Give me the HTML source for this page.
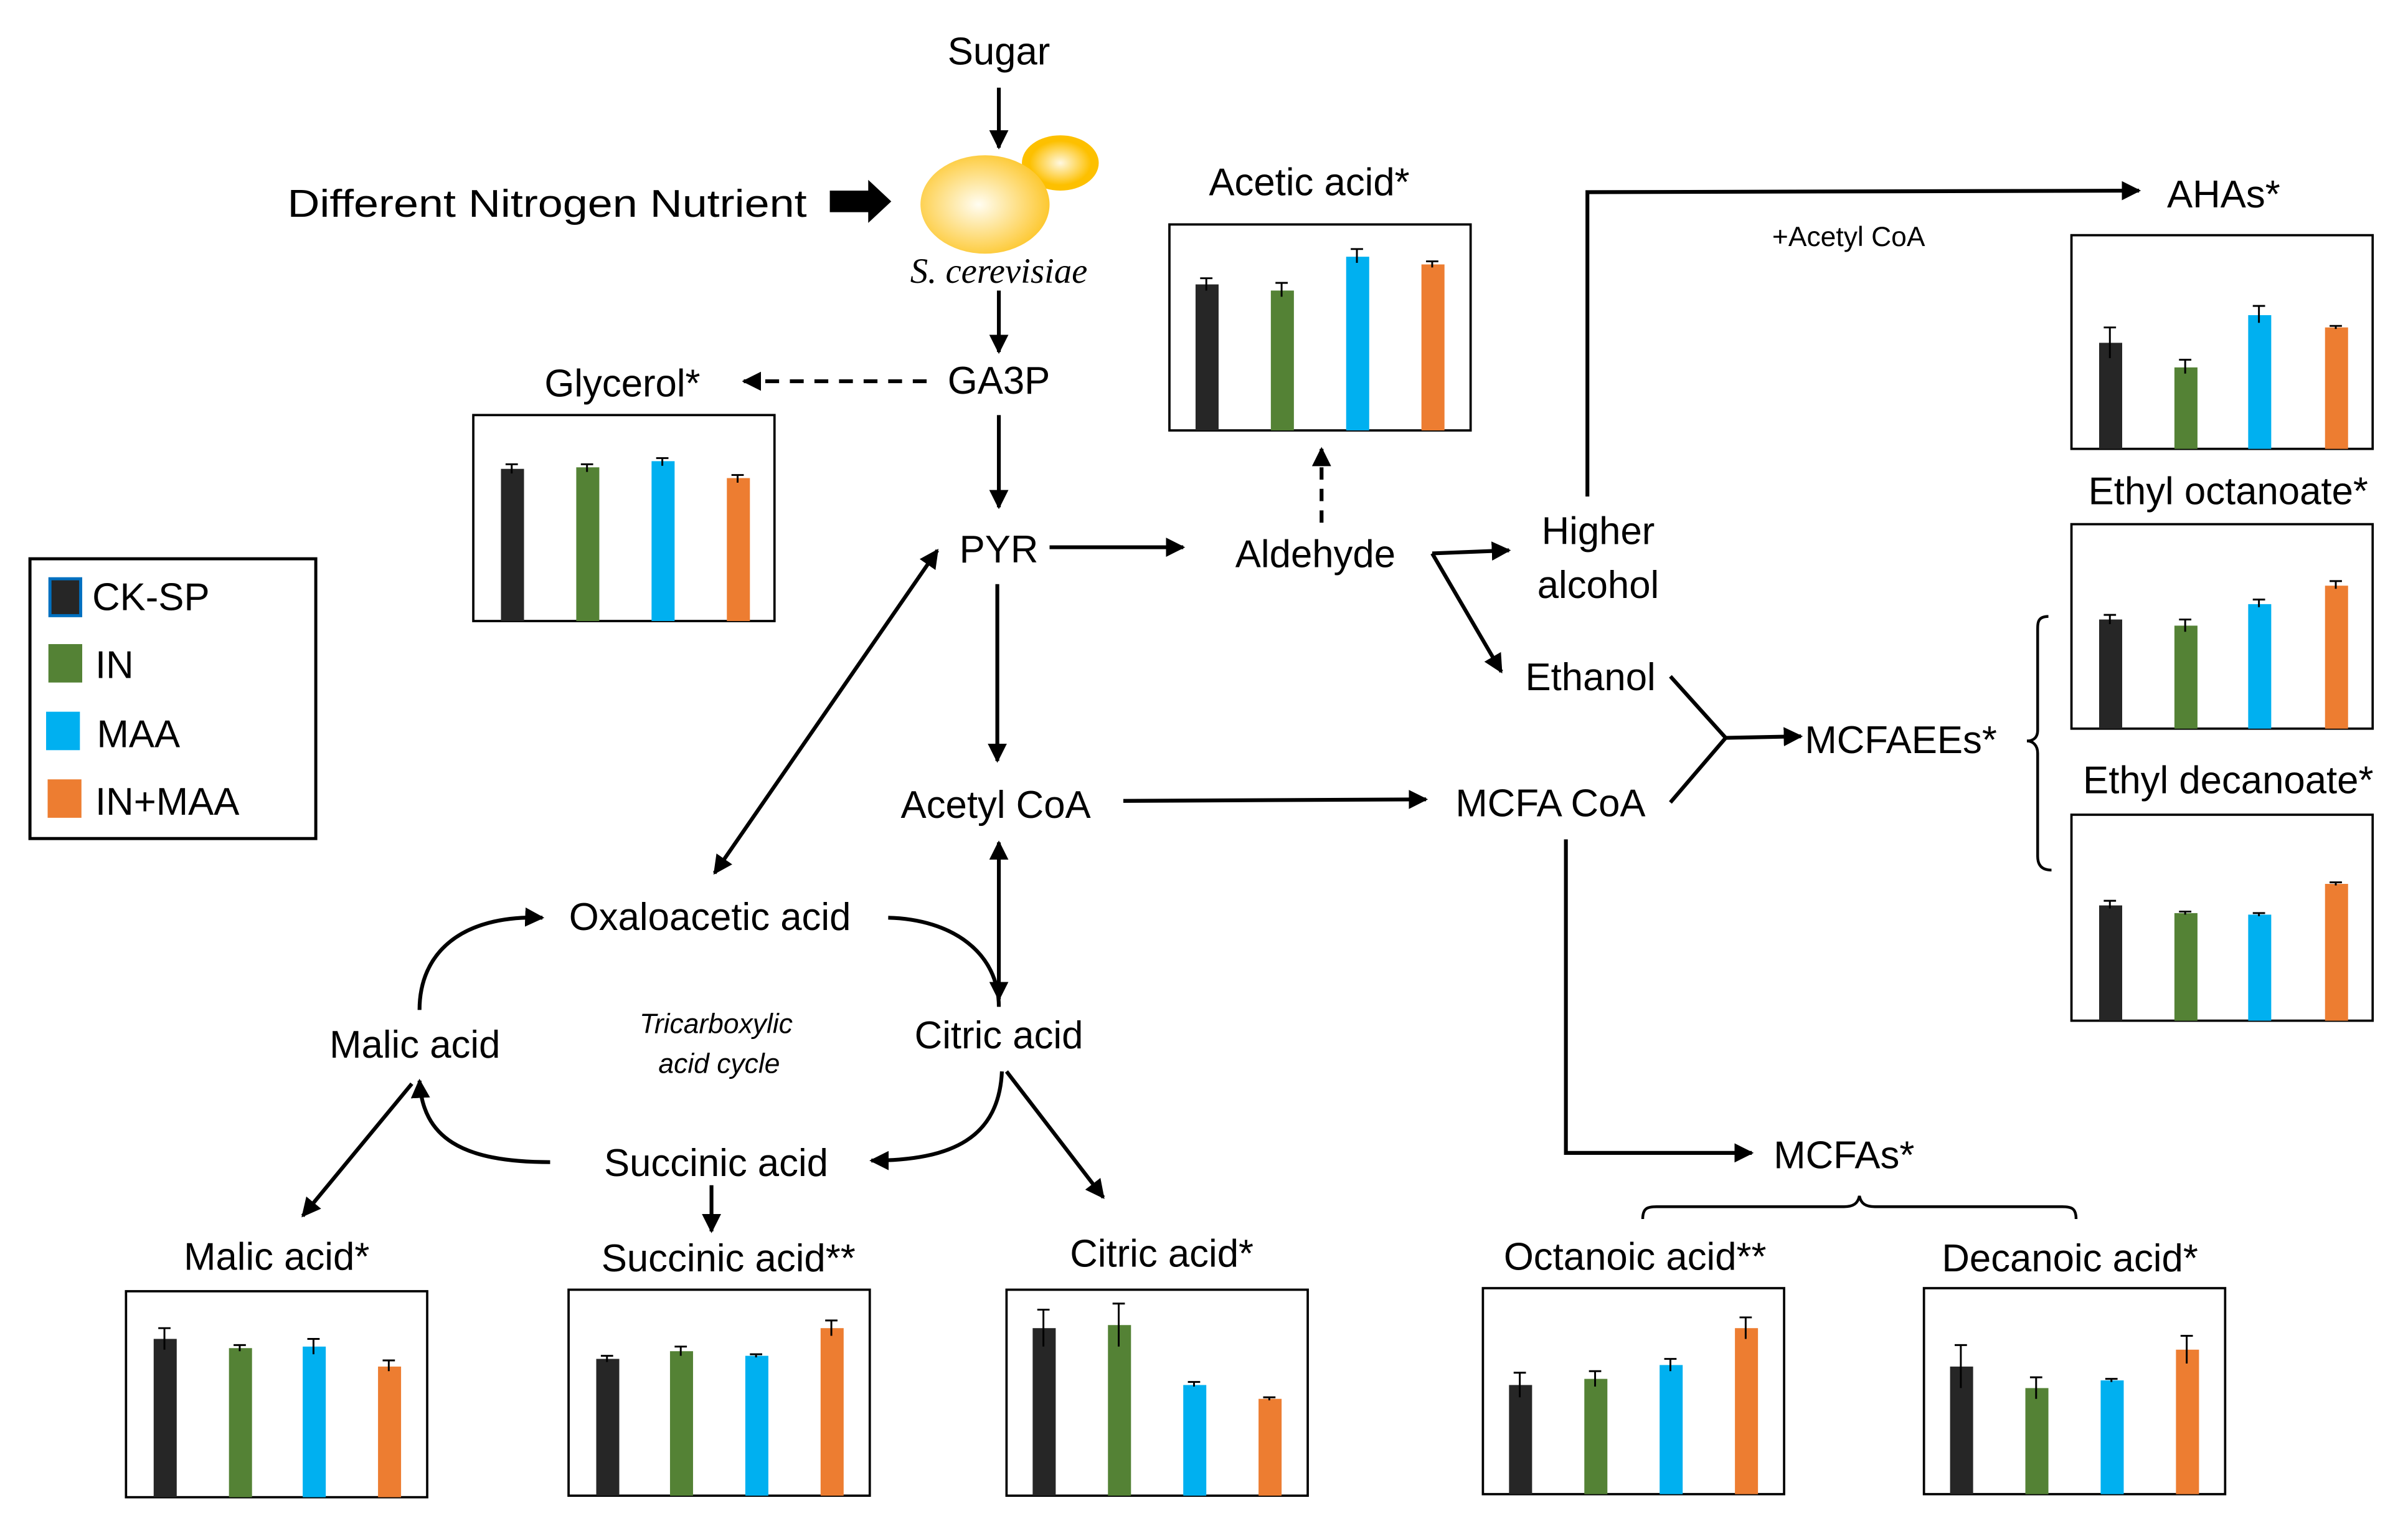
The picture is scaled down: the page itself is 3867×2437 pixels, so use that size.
<!DOCTYPE html>
<html><head><meta charset="utf-8"><style>html,body{margin:0;padding:0;background:#fff}svg{display:block}</style></head>
<body>
<svg width="3867" height="2437" viewBox="0 0 1567 987.5" xmlns="http://www.w3.org/2000/svg" font-family="Liberation Sans, sans-serif">
<defs>
<marker id="a" viewBox="0 0 10 10" refX="9" refY="5" markerWidth="5" markerHeight="5" orient="auto-start-reverse"><path d="M0,0L10,5L0,10z" fill="#000"/></marker>
<radialGradient id="y1" cx="0.45" cy="0.5" r="0.55"><stop offset="0" stop-color="#fffdf2"/><stop offset="1" stop-color="#fdc830"/></radialGradient>
<radialGradient id="y2" cx="0.5" cy="0.5" r="0.5"><stop offset="0" stop-color="#fff8e0"/><stop offset="0.8" stop-color="#fdc000"/></radialGradient>
</defs>
<rect width="1567" height="987.5" fill="#fff"/>
<g font-size="25" fill="#000">
<text x="650" y="42" text-anchor="middle">Sugar</text>
<text x="356" y="141" text-anchor="middle" textLength="338" lengthAdjust="spacingAndGlyphs">Different Nitrogen Nutrient</text>
<text x="650" y="256" text-anchor="middle">GA3P</text>
<text x="405" y="258" text-anchor="middle">Glycerol*</text>
<text x="650" y="366" text-anchor="middle">PYR</text>
<text x="856" y="369" text-anchor="middle">Aldehyde</text>
<text x="852" y="127" text-anchor="middle">Acetic acid*</text>
<text x="1040" y="354" text-anchor="middle">Higher</text>
<text x="1040" y="389" text-anchor="middle">alcohol</text>
<text x="1035" y="449" text-anchor="middle">Ethanol</text>
<text x="1009" y="531" text-anchor="middle">MCFA CoA</text>
<text x="1237" y="490" text-anchor="middle">MCFAEEs*</text>
<text x="1447" y="135" text-anchor="middle">AHAs*</text>
<text x="1450" y="328" text-anchor="middle">Ethyl octanoate*</text>
<text x="1450" y="516" text-anchor="middle">Ethyl decanoate*</text>
<text x="648" y="532" text-anchor="middle">Acetyl CoA</text>
<text x="462" y="605" text-anchor="middle">Oxaloacetic acid</text>
<text x="270" y="688" text-anchor="middle">Malic acid</text>
<text x="650" y="682" text-anchor="middle">Citric acid</text>
<text x="466" y="765" text-anchor="middle">Succinic acid</text>
<text x="180" y="826" text-anchor="middle">Malic acid*</text>
<text x="474" y="827" text-anchor="middle">Succinic acid**</text>
<text x="756" y="824" text-anchor="middle">Citric acid*</text>
<text x="1200" y="760" text-anchor="middle">MCFAs*</text>
<text x="1064" y="826" text-anchor="middle">Octanoic acid**</text>
<text x="1347" y="827" text-anchor="middle">Decanoic acid*</text>
<text x="60" y="397">CK-SP</text>
<text x="62" y="441">IN</text>
<text x="63" y="486">MAA</text>
<text x="62" y="530">IN+MAA</text>
</g>
<text x="1203" y="160" text-anchor="middle" font-size="18">+Acetyl CoA</text>
<text x="466" y="672" text-anchor="middle" font-size="18" font-style="italic">Tricarboxylic</text>
<text x="468" y="698" text-anchor="middle" font-size="18" font-style="italic">acid cycle</text>
<text x="650" y="184" text-anchor="middle" font-size="23" font-style="italic" font-family="Liberation Serif, serif">S. cerevisiae</text>
<!-- yeast -->
<ellipse cx="690" cy="106" rx="25" ry="18" fill="url(#y2)"/>
<ellipse cx="641" cy="133" rx="42" ry="32" fill="url(#y1)"/>
<!-- legend -->
<rect x="19.5" y="363.5" width="186" height="182" fill="none" stroke="#000" stroke-width="2"/>
<rect x="32.5" y="376.5" width="20" height="24" fill="#262626" stroke="#0070c0" stroke-width="2"/>
<rect x="31.5" y="419" width="22" height="25" fill="#548235"/>
<rect x="30" y="463" width="22" height="25" fill="#00B0F0"/>
<rect x="31" y="507" width="22" height="25" fill="#ED7D31"/>
<!-- arrows -->
<g stroke="#000" stroke-width="2.5" fill="none">
<line x1="650" y1="57" x2="650" y2="96" marker-end="url(#a)"/>
<line x1="650" y1="189" x2="650" y2="229" marker-end="url(#a)"/>
<line x1="603" y1="248" x2="484" y2="248" stroke-dasharray="9,7" marker-end="url(#a)"/>
<line x1="650" y1="270" x2="650" y2="330" marker-end="url(#a)"/>
<line x1="683" y1="356" x2="770" y2="356" marker-end="url(#a)"/>
<line x1="860" y1="340" x2="860" y2="292" stroke-dasharray="8,6" marker-end="url(#a)"/>
<polyline points="932,360 982,358" marker-end="url(#a)"/>
<polyline points="932,360 977,437" marker-end="url(#a)"/>
<polyline points="1033,323 1033,125 1392,124" marker-end="url(#a)"/>
<line x1="649" y1="380" x2="649" y2="495" marker-end="url(#a)"/>
<line x1="731" y1="521" x2="928" y2="520" marker-end="url(#a)"/>
<line x1="465" y1="568" x2="610" y2="358" marker-start="url(#a)" marker-end="url(#a)"/>
<line x1="650" y1="548" x2="650" y2="650" marker-start="url(#a)" marker-end="url(#a)"/>
<polyline points="1087,440 1123,480 1087,522"/>
<line x1="1123" y1="480" x2="1172" y2="479" marker-end="url(#a)"/>
<polyline points="1019,546 1019,750 1140,750" marker-end="url(#a)"/>
<path d="M273,657 C273,620 300,595 353,597" marker-end="url(#a)"/>
<path d="M578,597 C620,598 650,620 650,655"/>
<path d="M652,697 C650,740 620,755 567,755" marker-end="url(#a)"/>
<path d="M358,756 C300,756 275,740 273,703" marker-end="url(#a)"/>
<line x1="268" y1="705" x2="197" y2="791" marker-end="url(#a)"/>
<line x1="463" y1="771" x2="463" y2="801" marker-end="url(#a)"/>
<line x1="655" y1="697" x2="718" y2="779" marker-end="url(#a)"/>
<path d="M1333,401 C1326,401 1326,405 1326,410 L1326,475 C1326,480 1323,482 1319,482 C1323,482 1326,485 1326,490 L1326,557 C1326,562 1328,566 1335,566" stroke-width="1.8"/>
<path d="M1069,793 C1069,786 1072,785 1078,785 L1200,785 C1206,785 1209,783 1210,778 C1211,783 1214,785 1220,785 L1342,785 C1348,785 1351,786 1351,793" stroke-width="1.8"/>
</g>
<polygon points="540,124 565,124 565,117 580,131 565,145 565,138 540,138" fill="#000"/>
<!-- charts -->
<g stroke="#000" stroke-width="1.5" fill="none">
<rect x="308" y="270" width="196" height="134"/>
<rect x="761" y="146" width="196" height="134"/>
<rect x="1348" y="153" width="196" height="139"/>
<rect x="1348" y="341" width="196" height="133"/>
<rect x="1348" y="530" width="196" height="134"/>
<rect x="82" y="840" width="196" height="134"/>
<rect x="370" y="839" width="196" height="134"/>
<rect x="655" y="839" width="196" height="134"/>
<rect x="965" y="838" width="196" height="134"/>
<rect x="1252" y="838" width="196" height="134"/>
</g>
<g>
<!-- glycerol -->
<rect x="326" y="305" width="15" height="99" fill="#262626"/><rect x="375" y="304" width="15" height="100" fill="#548235"/><rect x="424" y="300" width="15" height="104" fill="#00B0F0"/><rect x="473" y="311" width="15" height="93" fill="#ED7D31"/>
<!-- acetic -->
<rect x="778" y="185" width="15" height="95" fill="#262626"/><rect x="827" y="189" width="15" height="91" fill="#548235"/><rect x="876" y="167" width="15" height="113" fill="#00B0F0"/><rect x="925" y="172" width="15" height="108" fill="#ED7D31"/>
<!-- AHAs -->
<rect x="1366" y="223" width="15" height="69" fill="#262626"/><rect x="1415" y="239" width="15" height="53" fill="#548235"/><rect x="1463" y="205" width="15" height="87" fill="#00B0F0"/><rect x="1513" y="213" width="15" height="79" fill="#ED7D31"/>
<!-- ethyl octanoate -->
<rect x="1366" y="403" width="15" height="71" fill="#262626"/><rect x="1415" y="407" width="15" height="67" fill="#548235"/><rect x="1463" y="393" width="15" height="81" fill="#00B0F0"/><rect x="1513" y="381" width="15" height="93" fill="#ED7D31"/>
<!-- ethyl decanoate -->
<rect x="1366" y="589" width="15" height="75" fill="#262626"/><rect x="1415" y="594" width="15" height="70" fill="#548235"/><rect x="1463" y="595" width="15" height="69" fill="#00B0F0"/><rect x="1513" y="575" width="15" height="89" fill="#ED7D31"/>
<!-- malic -->
<rect x="100" y="871" width="15" height="103" fill="#262626"/><rect x="149" y="877" width="15" height="97" fill="#548235"/><rect x="197" y="876" width="15" height="98" fill="#00B0F0"/><rect x="246" y="889" width="15" height="85" fill="#ED7D31"/>
<!-- succinic -->
<rect x="388" y="884" width="15" height="89" fill="#262626"/><rect x="436" y="879" width="15" height="94" fill="#548235"/><rect x="485" y="882" width="15" height="91" fill="#00B0F0"/><rect x="534" y="864" width="15" height="109" fill="#ED7D31"/>
<!-- citric -->
<rect x="672" y="864" width="15" height="109" fill="#262626"/><rect x="721" y="862" width="15" height="111" fill="#548235"/><rect x="770" y="901" width="15" height="72" fill="#00B0F0"/><rect x="819" y="910" width="15" height="63" fill="#ED7D31"/>
<!-- octanoic -->
<rect x="982" y="901" width="15" height="71" fill="#262626"/><rect x="1031" y="897" width="15" height="75" fill="#548235"/><rect x="1080" y="888" width="15" height="84" fill="#00B0F0"/><rect x="1129" y="864" width="15" height="108" fill="#ED7D31"/>
<!-- decanoic -->
<rect x="1269" y="889" width="15" height="83" fill="#262626"/><rect x="1318" y="903" width="15" height="69" fill="#548235"/><rect x="1367" y="898" width="15" height="74" fill="#00B0F0"/><rect x="1416" y="878" width="15" height="94" fill="#ED7D31"/>
</g>
<!-- error bars -->
<g stroke="#000" stroke-width="1.2">
<path d="M333,302v6M329,302h8M382,302v5M378,302h8M431,298v5M427,298h8M480,309v5M476,309h8"/>
<path d="M785,181v8M781,181h8M834,184v9M830,184h8M883,162v9M879,162h8M932,170v4M928,170h8"/>
<path d="M1373,213v20M1369,213h8M1422,234v9M1418,234h8M1470,199v11M1466,199h8M1520,212v2M1516,212h8"/>
<path d="M1373,400v6M1369,400h8M1422,403v8M1418,403h8M1470,390v5M1466,390h8M1520,378v5M1516,378h8"/>
<path d="M1373,586v5M1369,586h8M1422,593v2M1418,593h8M1470,594v2M1466,594h8M1520,574v2M1516,574h8"/>
<path d="M107,864v14M103,864h8M156,875v4M152,875h8M204,871v10M200,871h8M253,885v7M249,885h8"/>
<path d="M395,882v4M391,882h8M443,876v6M439,876h8M492,881v2M488,881h8M541,859v10M537,859h8"/>
<path d="M679,852v24M675,852h8M728,848v28M724,848h8M777,899v3M773,899h8M826,909v2M822,909h8"/>
<path d="M989,893v16M985,893h8M1038,892v10M1034,892h8M1087,884v8M1083,884h8M1136,857v14M1132,857h8"/>
<path d="M1276,875v28M1272,875h8M1325,896v14M1321,896h8M1374,897v2M1370,897h8M1423,869v18M1419,869h8"/>
</g>
</svg>
</body></html>
